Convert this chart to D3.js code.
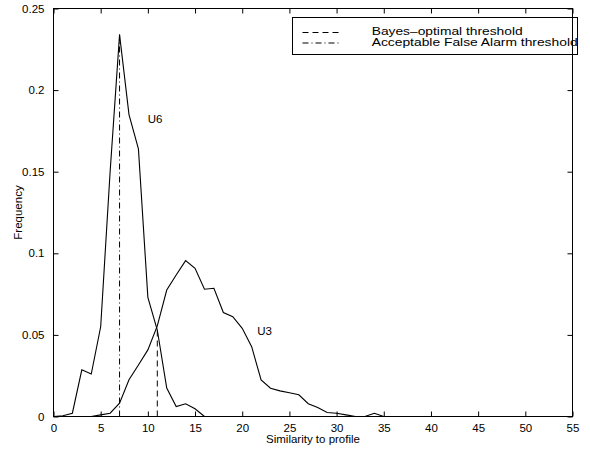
<!DOCTYPE html>
<html>
<head>
<meta charset="utf-8">
<script src="https://cdn.jsdelivr.net/npm/d3@7"></script>
<style>
  body { margin: 0; background: #fff; }
  text { font-family: "Liberation Sans", Arial, sans-serif; fill: #000; }
</style>
</head>
<body>
<div id="chart"></div>
<script>
// similarity scores 0..16 for user U6, 0..35 for U3
const u6X = d3.range(0, 17);
const u6Freq = [0, 0.0005, 0.002, 0.0286, 0.026, 0.055, 0.150, 0.234, 0.185, 0.164,
    0.073, 0.053, 0.0174, 0.0061, 0.0078, 0.0047, 0];
const u3X = d3.range(0, 36);
const u3Freq = [0, 0, 0, 0, 0, 0.001, 0.002, 0.0082, 0.0225, 0.0316,
    0.0408, 0.0555, 0.0775, 0.0867, 0.0955, 0.0908, 0.078, 0.0786, 0.0637, 0.0612,
    0.054, 0.0428, 0.0224, 0.0173, 0.0157, 0.0145, 0.0133, 0.0078, 0.0055, 0.0024,
    0.002, 0.001, 0, 0, 0.002, 0];

const thresholdNames = ["Bayes\u2013optimal threshold", "Acceptable False Alarm threshold"];
const thresholdX = [11, 7];
const thresholdTop = [0.055, 0.234];

const curveNames = ["U6", "U3"];
const curveLabelX = [9.98, 21.6];
const curveLabelY = [0.18, 0.05];

const xTicks = d3.range(0, 56, 5);
const yTicks = [0, 0.05, 0.1, 0.15, 0.2, 0.25];

const width = 590, height = 451;
const margin = { top: 8.5, right: 17.5, bottom: 34.5, left: 53.5 };

const x = d3.scaleLinear().domain([0, 55]).range([margin.left, width - margin.right]);
const y = d3.scaleLinear().domain([0, 0.25]).range([height - margin.bottom, margin.top]);

const svg = d3.select("#chart").append("svg")
    .attr("width", width)
    .attr("height", height);

const fontSize = 11.5;

// axes with inward ticks on all four sides
const tick = 5;
svg.append("g")
    .attr("transform", `translate(0,${y(0)})`)
    .call(d3.axisBottom(x).tickValues(xTicks).tickSizeInner(-tick).tickSizeOuter(0).tickPadding(7))
    .call(g => g.select(".domain").remove());
svg.append("g")
    .attr("transform", `translate(0,${y(0.25)})`)
    .call(d3.axisTop(x).tickValues(xTicks).tickSizeInner(-tick).tickSizeOuter(0).tickFormat(""))
    .call(g => g.select(".domain").remove());
svg.append("g")
    .attr("transform", `translate(${x(0)},0)`)
    .call(d3.axisLeft(y).tickValues(yTicks).tickSizeInner(-tick).tickSizeOuter(0).tickPadding(9)
        .tickFormat(d => d3.format("")(+d.toFixed(2))))
    .call(g => g.select(".domain").remove());
svg.append("g")
    .attr("transform", `translate(${x(55)},0)`)
    .call(d3.axisRight(y).tickValues(yTicks).tickSizeInner(-tick).tickSizeOuter(0).tickFormat(""))
    .call(g => g.select(".domain").remove());

svg.selectAll(".tick text")
    .attr("font-family", "Liberation Sans, Arial, sans-serif")
    .attr("font-size", fontSize)
    .attr("fill", "#000");
svg.selectAll(".tick line").attr("stroke", "#000");

const line = d3.line().x(d => x(d[0])).y(d => y(d[1]));

svg.append("path")
    .datum(d3.zip(u6X, u6Freq))
    .attr("d", line)
    .attr("fill", "none").attr("stroke", "#000").attr("stroke-width", 1.1);
svg.append("path")
    .datum(d3.zip(u3X, u3Freq))
    .attr("d", line)
    .attr("fill", "none").attr("stroke", "#000").attr("stroke-width", 1.1);

const dashes = ["6,4", "6,3,1,3"];

svg.selectAll(".threshold")
    .data(thresholdX)
    .join("line")
    .attr("class", "threshold")
    .attr("x1", d => x(d)).attr("x2", d => x(d))
    .attr("y1", y(0))
    .attr("y2", (d, i) => y(thresholdTop[i]))
    .attr("stroke", "#000").attr("stroke-width", 1)
    .attr("stroke-dasharray", (d, i) => dashes[i]);

svg.selectAll(".curve-label")
    .data(curveNames)
    .join("text")
    .attr("class", "curve-label")
    .attr("x", (d, i) => x(curveLabelX[i]))
    .attr("y", (d, i) => y(curveLabelY[i]))
    .attr("font-size", fontSize)
    .text(d => d);

// axis titles
svg.append("text")
    .attr("x", (x(0) + x(55)) / 2)
    .attr("y", 443)
    .attr("text-anchor", "middle")
    .attr("font-size", fontSize)
    .text("Similarity to profile");
svg.append("text")
    .attr("transform", `translate(22,${(y(0) + y(0.25)) / 2}) rotate(-90)`)
    .attr("text-anchor", "middle")
    .attr("font-size", fontSize)
    .text("Frequency");

// legend
const legend = svg.append("g");
legend.append("rect")
    .attr("x", 292.5).attr("y", 17.5)
    .attr("width", 285).attr("height", 37)
    .attr("fill", "#fff").attr("stroke", "#000").attr("stroke-width", 1);
const legendLen = [151, 206];
thresholdNames.forEach((name, i) => {
    const ly = 32.5 + i * 10.5;
    legend.append("line")
        .attr("x1", 302.5).attr("x2", 341.5)
        .attr("y1", ly).attr("y2", ly)
        .attr("stroke", "#000").attr("stroke-width", 1)
        .attr("stroke-dasharray", dashes[i]);
    legend.append("text")
        .attr("x", 371.7)
        .attr("y", 34.5 + i * 11)
        .attr("font-size", 11)
        .attr("textLength", legendLen[i])
        .attr("lengthAdjust", "spacingAndGlyphs")
        .text(name);
});

// frame on top, the right edge runs through the legend as in the original
svg.append("rect")
    .attr("x", x(0)).attr("y", y(0.25))
    .attr("width", x(55) - x(0)).attr("height", y(0) - y(0.25))
    .attr("fill", "none").attr("stroke", "#000").attr("stroke-width", 1);
</script>
</body>
</html>
